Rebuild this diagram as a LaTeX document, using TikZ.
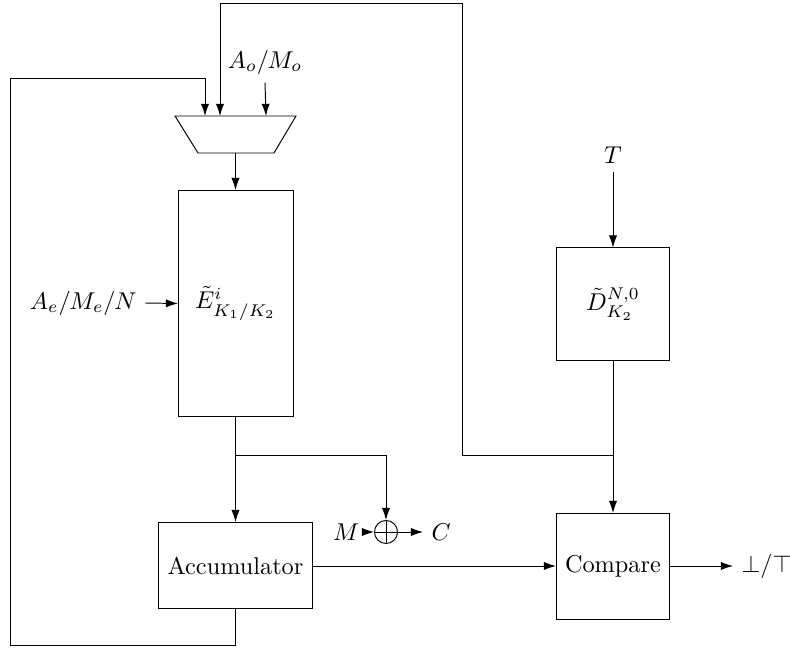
\documentclass[tikz,border=0pt]{standalone}
\usetikzlibrary{arrows.meta}
\begin{document}
\begin{tikzpicture}[x=0.01446cm,y=-0.01446cm,
  arr/.style={-{Latex[length=5pt,width=3.4pt]}},
  blk/.style={draw, inner sep=0pt, outer sep=0pt},
  lbl/.style={inner sep=0.3333em}]
\useasboundingbox (0,0) rectangle (790,648);
% blocks
\node[blk, minimum width=1.663cm, minimum height=3.282cm] (E) at (235.5,303.5) {$\tilde{E}^{i}_{K_1/K_2}$};
\node[blk, minimum width=1.648cm, minimum height=1.634cm] (D) at (613,304) {$\tilde{D}^{N,0}_{K_2}$};
\node[blk, minimum width=1.648cm, minimum height=1.533cm] (Cmp) at (613,566) {Compare};
\node[blk, minimum width=2.241cm, minimum height=1.258cm] (Acc) at (235.5,565.5) {Accumulator};
\node[circle, draw, inner sep=0pt, minimum size=0.333cm] (X) at (386,532) {};
\draw (X.north) -- (X.south) (X.west) -- (X.east);
% mux
\coordinate (m1) at (205,116);
\coordinate (m2) at (220,116);
\coordinate (m3) at (266,116);
\coordinate (mo) at (235.5,153);
\draw (175,116) -- (296,116) -- (274,153) -- (198,153) -- cycle;
% labels
\node[lbl] (Ao) at (265,62) {$A_o/M_o$};
\node[lbl, anchor=east] (Ae) at (145,303) {$A_e/M_e/N$};
\node[lbl] (T) at (613,155) {$T$};
\node[lbl, anchor=east] (M) at (368,532) {$M$};
\node[lbl, anchor=west] (C) at (423,532) {$C$};
\node[lbl, anchor=west] (Out) at (733,566) {$\bot/\top$};
% junctions
\coordinate (j1) at (235.5,455);
\coordinate (j2) at (613,455);
% connectors
\draw[arr] (Ao.south) -- (m3);
\draw[arr] (mo) -- (E.north);
\draw[arr] (Ae.east) -- (E.west);
\draw[arr] (E.south) -- (Acc.north);
\draw[arr] (j1) -| (X.north);
\draw[arr] (M.east) -- (X.west);
\draw[arr] (X.east) -- (C.west);
\draw[arr] (T.south) -- (D.north);
\draw[arr] (D.south) -- (Cmp.north);
\draw[arr] (Acc.east |- Cmp.west) -- (Cmp.west);
\draw[arr] (Cmp.east) -- (Out.west |- Cmp.east);
\draw[arr] (j2) -- (462,455) -- (462,3) -- (220,3) -- (m2);
\draw[arr] (Acc.south) -- (235.5,645) -- (10,645) -- (10,78) -- (205,78) -- (m1);
\end{tikzpicture}
\end{document}
